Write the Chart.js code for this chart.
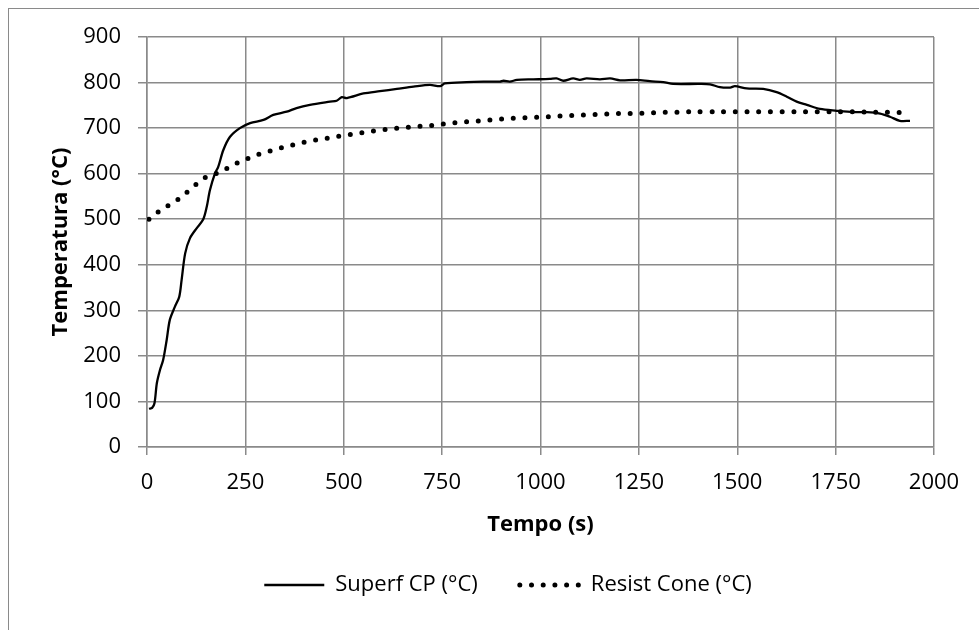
<!DOCTYPE html>
<html>
<head>
<meta charset="utf-8">
<script src="https://cdn.jsdelivr.net/npm/chart.js@4.4.1/dist/chart.umd.min.js"></script>
<style>
  body { margin: 0; background: #fff; overflow: hidden; }
  #wrap { position: relative; width: 979px; height: 630px; }
  #frame { position: absolute; left: 8px; top: 8px; width: 1200px; height: 900px;
           border-left: 1px solid #8a8a8a; border-top: 1px solid #8a8a8a; }
  canvas { position: absolute; left: 0; top: 0; }
</style>
</head>
<body>
<div id="wrap">
  <div id="frame"></div>
  <canvas id="myChart" width="979" height="630"></canvas>
</div>
<script>
// Superf CP (°C) - solid line
const superfTime = [5, 13, 19, 25, 33, 41, 50, 58, 71, 82, 88, 97, 109, 126, 143, 152, 160, 173, 181, 194, 211, 236, 262, 296, 321, 355, 380, 414, 465, 482, 495, 508, 550, 592, 635, 677, 719, 745, 757, 812, 855, 897, 906, 922, 940, 982, 1024, 1041, 1058, 1083, 1100, 1117, 1151, 1177, 1202, 1244, 1278, 1312, 1337, 1405, 1431, 1456, 1482, 1494, 1524, 1566, 1600, 1626, 1651, 1677, 1710, 1753, 1795, 1829, 1863, 1888, 1913, 1939]
const superfTemp = [84, 86, 96, 140, 169, 191, 235, 279, 308, 330, 367, 425, 458, 480, 500, 528, 564, 601, 615, 652, 681, 700, 711, 718, 729, 736, 744, 751, 758, 760, 768, 766, 776, 781, 786, 791, 795, 792, 798, 801, 802, 802, 804, 802, 806, 807, 808, 809, 804, 809, 806, 809, 807, 809, 805, 806, 803, 801, 797, 797, 796, 790, 789, 792, 787, 786, 779, 769, 758, 751, 742, 738, 735, 735, 732, 725, 716, 716]

// Resist Cone (°C) - dotted line
const resistTime = [5, 27, 52, 78, 101, 124, 147, 175, 202, 228, 256, 283, 313, 342, 370, 399, 429, 459, 488, 518, 547, 577, 607, 636, 666, 696, 725, 755, 784, 814, 844, 873, 903, 933, 963, 993, 1023, 1053, 1083, 1112, 1143, 1172, 1202, 1233, 1262, 1292, 1321, 1352, 1382, 1450, 1550, 1650, 1750, 1850, 1930]
const resistTemp = [500, 515, 529, 543, 559, 576, 591, 600, 611, 623, 633, 642, 650, 657, 663, 669, 674, 678, 682, 686, 690, 694, 697, 700, 702, 704, 706, 709, 712, 714, 716, 718, 720, 722, 723, 724, 725, 727, 728, 729, 730, 731, 732, 732, 733, 734, 735, 735, 736, 736, 736, 736, 736, 735, 734]

const xTicks = [0, 250, 500, 750, 1000, 1250, 1500, 1750, 2000]
const yTicks = [0, 100, 200, 300, 400, 500, 600, 700, 800, 900]

const toPoints = (xs, ys) => xs.map((x, i) => ({ x: x, y: ys[i] }))

Chart.defaults.font.family = "'Open Sans', sans-serif"
Chart.defaults.font.size = 22
Chart.defaults.color = '#000'

const gridColor = '#8a8a8a'

// legend samples use the dataset line style (width, dash, cap)
const legendLabels = (chart) => {
    const items = Chart.defaults.plugins.legend.labels.generateLabels(chart)
    items.forEach(item => {
        const ds = chart.data.datasets[item.datasetIndex]
        item.lineWidth = ds.borderWidth
        item.lineDash = ds.borderDash || []
        item.lineCap = ds.borderCapStyle || 'butt'
        item.strokeStyle = ds.borderColor
        item.pointStyle = 'line'
    })
    return items
}

const ctx = document.getElementById('myChart').getContext('2d')
const myChart = new Chart(ctx, {
    type: 'line',
    data: {
        datasets: [{
            label: 'Superf CP (°C)',
            data: toPoints(superfTime, superfTemp),
            borderColor: '#000',
            backgroundColor: '#000',
            borderWidth: 2.3,
            pointRadius: 0,
            tension: 0.3
        }, {
            label: 'Resist Cone (°C)',
            data: toPoints(resistTime, resistTemp),
            borderColor: '#000',
            backgroundColor: '#000',
            borderWidth: 5,
            borderDash: [0, 11.7],
            borderCapStyle: 'round',
            pointRadius: 0,
            tension: 0.3
        }]
    },
    options: {
        responsive: false,
        animation: false,
        layout: { padding: { left: 37, right: 0, top: 37, bottom: 24 } },
        plugins: {
            legend: {
                position: 'bottom',
                labels: {
                    usePointStyle: true,
                    pointStyle: 'line',
                    pointStyleWidth: 60,
                    padding: 42,
                    font: { size: 22 },
                    generateLabels: legendLabels
                }
            },
            tooltip: { enabled: false }
        },
        scales: {
            x: {
                type: 'linear',
                min: 0,
                max: 2000,
                afterBuildTicks: (scale) => { scale.ticks = xTicks.map(v => ({ value: v })) },
                ticks: { padding: 15, maxRotation: 0, callback: (v) => String(v) },
                grid: { color: gridColor, lineWidth: 1.5, tickLength: 8 },
                border: { color: gridColor, width: 1.5 },
                title: { display: true, text: 'Tempo (s)', font: { size: 22, weight: 'bold' }, padding: { top: 0, bottom: -6 } },
                afterFit: (scale) => { scale.height = 85 }
            },
            y: {
                type: 'linear',
                min: 0,
                max: 900,
                afterBuildTicks: (scale) => { scale.ticks = yTicks.map(v => ({ value: v })) },
                ticks: { padding: 17, callback: (v) => String(v) },
                grid: { color: gridColor, lineWidth: 1.5, tickLength: 9 },
                border: { color: gridColor, width: 1.5 },
                title: { display: true, text: 'Temperatura (°C)', font: { size: 22, weight: 'bold' }, padding: { top: 11, bottom: 0 } },
                afterFit: (scale) => { scale.width = 110 }
            },
            yRight: {
                type: 'linear',
                position: 'right',
                display: true,
                ticks: { display: false },
                grid: { display: false, drawTicks: false },
                border: { display: false },
                afterFit: (scale) => { scale.width = 45 }
            }
        }
    }
})
</script>
</body>
</html>
